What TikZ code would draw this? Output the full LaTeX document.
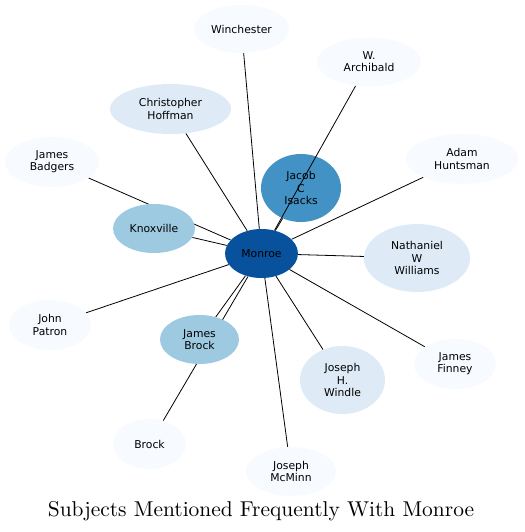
\documentclass[tikz,border=0pt]{standalone}
\usepackage{fontspec}
\newfontfamily\nodefont{DejaVu Sans}
\usetikzlibrary{shapes.geometric}
\pgfdeclarelayer{bottom}
\pgfdeclarelayer{edges}
\pgfsetlayers{bottom,edges,main}
\definecolor{cDark}{HTML}{08519C}
\definecolor{cMid}{HTML}{4292C6}
\definecolor{cLight}{HTML}{9ECAE1}
\definecolor{cPale}{HTML}{DEEBF7}
\definecolor{cPalest}{HTML}{F7FBFF}
\tikzset{
  ent/.style={ellipse, inner sep=0pt, align=center,
    font=\nodefont\fontsize{10.8}{12.2}\selectfont, text=black},
  edge/.style={draw=black, line width=0.8pt},
}
\begin{document}
\begin{tikzpicture}[x=1pt,y=-1pt]
\useasboundingbox (0,0) rectangle (524,532);
\begin{pgfonlayer}{bottom}
\node[ent, fill=cMid, minimum width=80pt, minimum height=68pt] (jacob) at (301,188) {Jacob\\C\\Isacks};
\end{pgfonlayer}
\node[ent, fill=cDark, minimum width=73pt, minimum height=49pt] (monroe) at (261.5,253.5) {Monroe};
\node[ent, fill=cPalest, minimum width=95pt, minimum height=48pt] (winchester) at (241.5,29) {Winchester};
\node[ent, fill=cPalest, minimum width=104pt, minimum height=49pt] (archibald) at (369,62) {W.\\Archibald};
\node[ent, fill=cPale, minimum width=121pt, minimum height=50pt] (hoffman) at (170.5,109) {Christopher\\Hoffman};
\node[ent, fill=cPalest, minimum width=94pt, minimum height=50pt] (badgers) at (52,162) {James\\Badgers};
\node[ent, fill=cPalest, minimum width=112pt, minimum height=50pt] (huntsman) at (462,159) {Adam\\Huntsman};
\node[ent, fill=cLight, minimum width=82pt, minimum height=49pt] (knoxville) at (154,228.5) {Knoxville};
\node[ent, fill=cPale, minimum width=106pt, minimum height=68pt] (williams) at (417,258) {Nathaniel\\W\\Williams};
\node[ent, fill=cPalest, minimum width=82pt, minimum height=50pt] (patron) at (50,325) {John\\Patron};
\node[ent, fill=cLight, minimum width=79pt, minimum height=49pt] (jbrock) at (199.5,339.5) {James\\Brock};
\node[ent, fill=cPale, minimum width=85pt, minimum height=68pt] (windle) at (342.5,380) {Joseph\\H.\\Windle};
\node[ent, fill=cPalest, minimum width=82pt, minimum height=50pt] (finney) at (455,364) {James\\Finney};
\node[ent, fill=cPalest, minimum width=73pt, minimum height=50pt] (brock) at (149.5,444) {Brock};
\node[ent, fill=cPalest, minimum width=90pt, minimum height=49pt] (mcminn) at (291,471.5) {Joseph\\McMinn};
\node[anchor=base, inner sep=0pt] (title) at (261,516.5) {\scalebox{2.146}{\fontsize{10}{12}\selectfont Subjects Mentioned Frequently With Monroe}};
\begin{pgfonlayer}{edges}
\foreach \t in {winchester,archibald,hoffman,badgers,huntsman,jacob,knoxville,williams,patron,jbrock,windle,finney,brock,mcminn}
  \draw[edge] (monroe) -- (\t);
\end{pgfonlayer}
\end{tikzpicture}
\end{document}
